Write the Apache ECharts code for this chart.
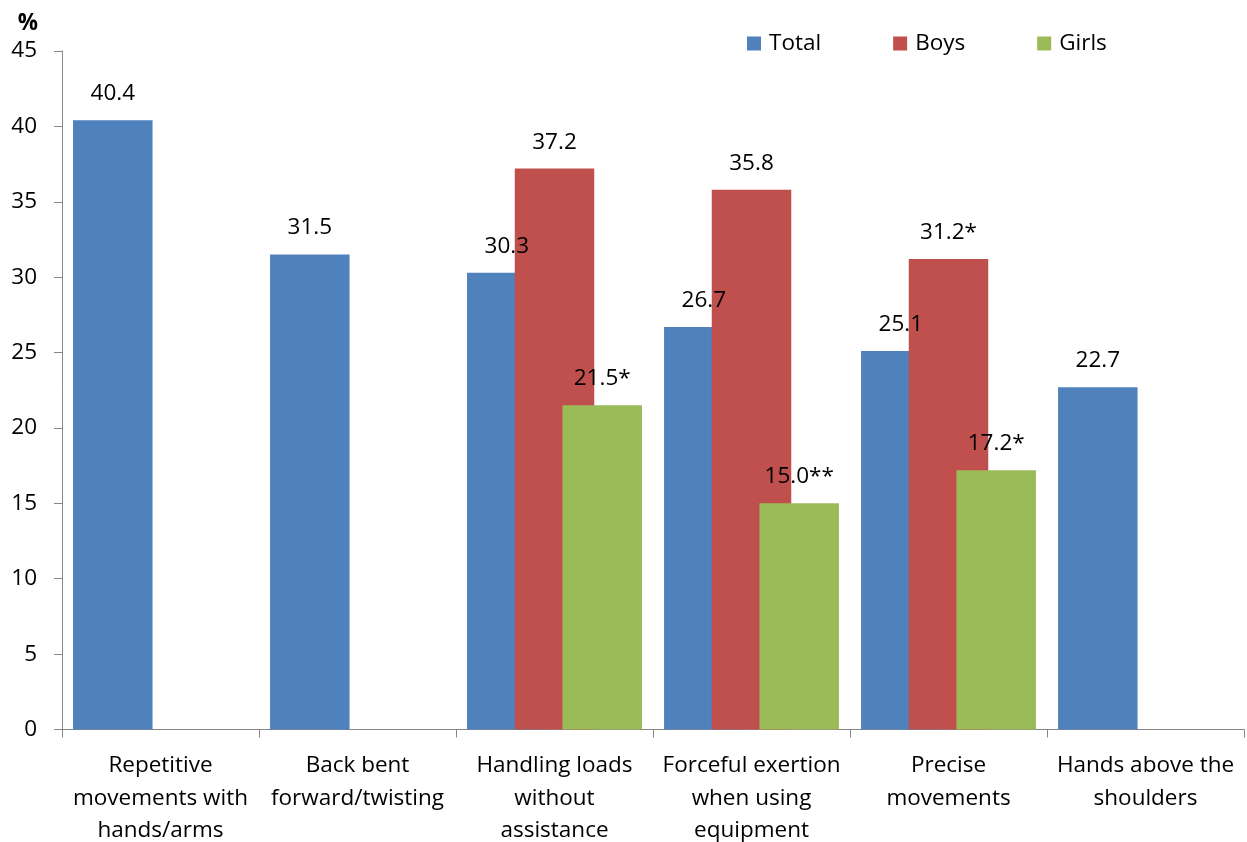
<!DOCTYPE html>
<html>
<head>
<meta charset="utf-8">
<script src="https://cdn.jsdelivr.net/npm/echarts@6/dist/echarts.min.js"></script>
<style>
html,body{margin:0;padding:0;background:#fff;}
#chart{width:1247px;height:842px;}
</style>
</head>
<body>
<div id="chart"></div>
<script>
const categories = [
  "Repetitive\nmovements with\nhands/arms",
  "Back bent\nforward/twisting",
  "Handling loads\nwithout\nassistance",
  "Forceful exertion\nwhen using\nequipment",
  "Precise\nmovements",
  "Hands above the\nshoulders"
];
const seriesNames = ["Total", "Boys", "Girls"];
const totalValues = [40.4, 31.5, 30.3, 26.7, 25.1, 22.7];
const boysValues = [null, null, 37.2, 35.8, 31.2, null];
const girlsValues = [null, null, 21.5, 15.0, 17.2, null];
const totalMarks = ["", "", "", "", "", ""];
const boysMarks = ["", "", "", "", "*", ""];
const girlsMarks = ["", "", "*", "**", "*", ""];
const yTicks = [0, 5, 10, 15, 20, 25, 30, 35, 40, 45];
const colors = ["#4F81BD", "#C0504D", "#9BBB59"];

const FONT = "'Open Sans', sans-serif";
const FS = 22.5;

function mkSeries(name, values, marks, color) {
  return {
    name: name,
    type: "bar",
    data: values,
    barWidth: 79.5,
    barGap: "-40%",
    itemStyle: { color: color },
    label: {
      show: true,
      position: "top",
      distance: 15,
      color: "#000",
      fontFamily: FONT,
      fontSize: FS,
      formatter: function (p) {
        if (p.value == null) return "";
        return Number(p.value).toFixed(1) + marks[p.dataIndex];
      }
    }
  };
}

const chart = echarts.init(document.getElementById("chart"), null, { renderer: "canvas" });
chart.setOption({
  animation: false,
  color: colors,
  grid: { left: 62, right: 3, top: 51, bottom: 112.5, containLabel: false, outerBoundsMode: "none" },
  legend: {
    data: seriesNames,
    left: 742,
    top: 27,
    itemWidth: 14,
    itemHeight: 14,
    itemGap: 72,
    icon: "rect",
    textStyle: { fontFamily: FONT, fontSize: FS, color: "#000", padding: [0, 0, 0, 3] }
  },
  xAxis: {
    type: "category",
    data: categories,
    boundaryGap: true,
    axisLine: { lineStyle: { color: "#868686", width: 1 } },
    axisTick: { show: true, length: 8, alignWithLabel: false, lineStyle: { color: "#868686" } },
    axisLabel: {
      interval: 0,
      margin: 20,
      fontFamily: FONT,
      fontSize: FS,
      color: "#000",
      lineHeight: 32.5,
      align: "center"
    },
    splitLine: { show: false }
  },
  yAxis: {
    type: "value",
    min: yTicks[0],
    max: yTicks[yTicks.length - 1],
    interval: 5,
    name: "%",
    nameLocation: "end",
    nameGap: 16,
    nameTextStyle: { fontFamily: FONT, fontSize: FS, fontWeight: "bold", color: "#000", align: "center", padding: [0, 68, 0, 0] },
    axisLine: { show: true, lineStyle: { color: "#868686", width: 1 } },
    axisTick: { show: true, length: 8, inside: false, lineStyle: { color: "#868686" } },
    axisLabel: { margin: 25, fontFamily: FONT, fontSize: FS, color: "#000" },
    splitLine: { show: false }
  },
  series: [
    mkSeries(seriesNames[0], totalValues, totalMarks, colors[0]),
    mkSeries(seriesNames[1], boysValues, boysMarks, colors[1]),
    mkSeries(seriesNames[2], girlsValues, girlsMarks, colors[2])
  ]
});
</script>
</body>
</html>
